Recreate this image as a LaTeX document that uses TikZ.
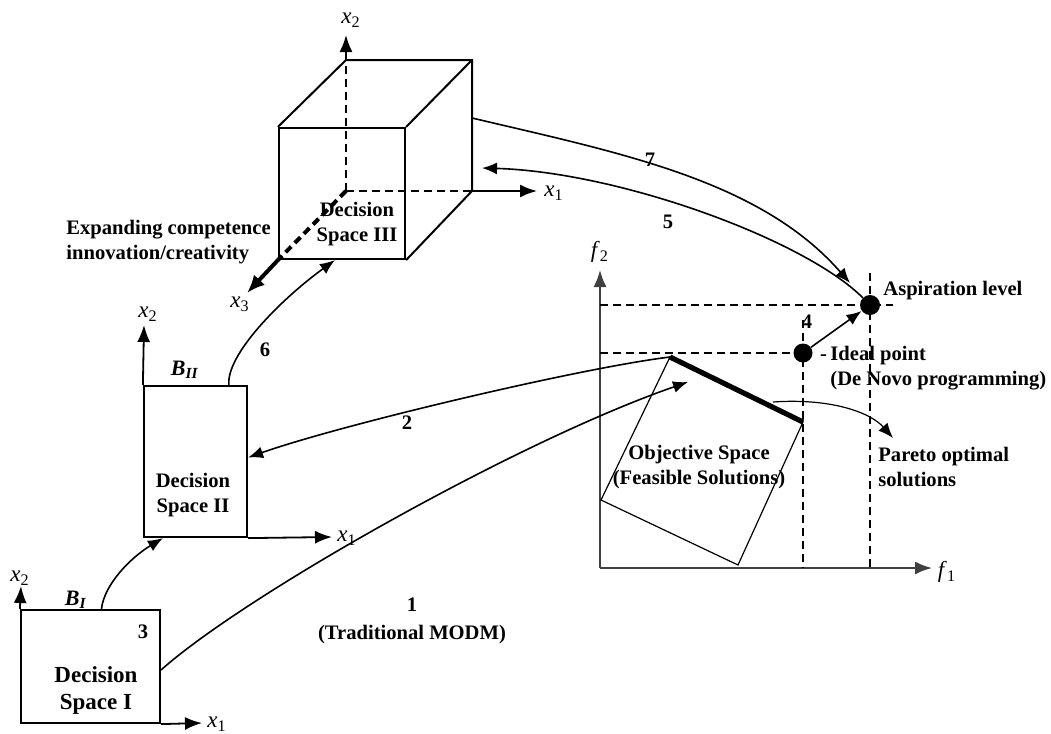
\documentclass[tikz,border=0pt]{standalone}
\usepackage{fontspec}
\setmainfont{Liberation Serif}
\usetikzlibrary{arrows.meta, calc}

\newcommand{\axlab}[2]{\textnormal{\fontsize{11.5}{13}\selectfont\textit{#1}\textsubscript{#2}}}

\begin{document}
\begin{tikzpicture}[x=0.5pt, y=-0.5pt, font=\fontsize{10.3}{12.5}\selectfont\bfseries]
    \tikzstyle{spacebox} = [rectangle, draw, line width=1.1pt, inner sep=0pt]
    \tikzstyle{line} = [draw, line width=0.8pt, -{Latex[length=7.5pt, width=6pt]}]
    \tikzstyle{axisline} = [draw, line width=0.9pt, -{Latex[length=8.5pt, width=6.5pt]}]
    \tikzstyle{edge} = [draw, line width=1pt]
    \tikzstyle{guide} = [draw, line width=0.9pt, dash pattern=on 4pt off 2.5pt]
    \tikzstyle{dot} = [circle, fill, inner sep=0pt, minimum size=9.5pt]
    \tikzstyle{txt} = [inner sep=0pt, align=center]
    \tikzstyle{ltxt} = [inner sep=0pt, align=left, anchor=west]

    \useasboundingbox (0,0) rectangle (1051,734);

    % Decision Space I
    \node [spacebox, minimum width=69.5pt, minimum height=56.5pt] (ds1) at (90.5,666.5) {};
    \node [txt, font=\fontsize{11.5}{13.5}\selectfont\bfseries] (ds1txt) at (96,690) {Decision\\Space I};
    \node [txt] (n3) at (143,632) {3};
    \node [txt, font=\fontsize{11}{13}\selectfont\bfseries] (bone) at (76,600) {\textit{B}\textsubscript{\textit{I}}};
    \coordinate (ds1x2) at (21,586);
    \coordinate (ds1x1) at (202,723);
    \path [axisline] (ds1.north west) -- (ds1x2);
    \path [axisline] (ds1.south east) -- (ds1x1);
    \node [txt] (ds1x2lab) at (20,578) {\axlab{x}{2}};
    \node [ltxt] (ds1x1lab) at (207,724) {\axlab{x}{1}};

    % Decision Space II
    \node [spacebox, minimum width=51.5pt, minimum height=75.5pt] (ds2) at (195.5,461.5) {};
    \node [txt] (ds2txt) at (193,495) {Decision\\Space II};
    \node [txt, font=\fontsize{11}{13}\selectfont\bfseries] (btwo) at (185,370) {\textit{B}\textsubscript{\textit{II}}};
    \coordinate (ds2x2) at (144,325);
    \coordinate (ds2x1) at (332,537);
    \path [axisline] (ds2.north west) -- (ds2x2);
    \path [axisline] (ds2.south east) -- (ds2x1);
    \node [txt] (ds2x2lab) at (148,314) {\axlab{x}{2}};
    \node [ltxt] (ds2x1lab) at (337,538) {\axlab{x}{1}};

    % Decision Space III (cube)
    \node [spacebox, minimum width=63pt, minimum height=65.5pt] (ds3) at (342,193.5) {};
    \coordinate (btl) at (346,60);
    \coordinate (btr) at (472,60);
    \coordinate (bbr) at (472,191);
    \coordinate (borg) at (346,191);
    \path [edge] (ds3.north west) -- (btl) -- (btr) -- (bbr) -- (ds3.south east);
    \path [edge] (ds3.north east) -- (btr);
    \path [guide] (borg) -- (btl);
    \path [guide] (borg) -- (bbr);
    \path [guide, line width=2pt] (borg) -- (ds3.south west);
    \coordinate (ds3x2) at (346,35);
    \coordinate (ds3x1) at (537,191);
    \coordinate (ds3x3) at (247,293);
    \path [axisline] (btl) -- (ds3x2);
    \path [axisline] (bbr) -- (ds3x1);
    \path [draw, line width=2pt, -{Latex[length=9pt, width=7.5pt]}] (ds3.south west) -- (ds3x3);
    \node [txt] (ds3txt) at (357,224) {Decision\\Space III};
    \node [txt] (ds3x2lab) at (351,20) {\axlab{x}{2}};
    \node [ltxt] (ds3x1lab) at (544,193) {\axlab{x}{1}};
    \node [txt] (ds3x3lab) at (240,304) {\axlab{x}{3}};
    \node [ltxt] (expand) at (66,242) {Expanding competence\\innovation/creativity};

    % Objective space
    \coordinate (orig) at (600,568);
    \coordinate (f2top) at (600,270);
    \coordinate (f1end) at (932,568);
    \path [axisline, draw=black!75] (orig) -- (f2top);
    \path [axisline, draw=black!75] (orig) -- (f1end);
    \node [txt] (f2lab) at (600,252) {\axlab{f}{2}};
    \node [txt] (f1lab) at (947,572) {\axlab{f}{1}};

    \node [dot, minimum size=10pt] (aspir) at (870,305) {};
    \node [dot] (ideal) at (803,353) {};
    \path [guide] (orig |- aspir) -- (893,305);
    \path [guide] (870,273) -- (orig -| aspir);
    \path [guide] (orig |- ideal) -- (ideal);
    \path [guide] (803,320) -- (orig -| ideal);

    \coordinate (otl) at (670,357);
    \coordinate (otr) at (803,422);
    \coordinate (obr) at (738,565);
    \coordinate (obl) at (601,500);
    \draw [line width=0.6pt] (otl) -- (otr) -- (obr) -- (obl) -- cycle;
    \draw [line width=2.6pt] (otl) -- (otr);

    \node [txt] (objtxt) at (699,467) {Objective Space\\(Feasible Solutions)};
    \node [ltxt] (paretotxt) at (878,467) {Pareto optimal\\solutions};
    \node [ltxt] (aspirtxt) at (883,291) {Aspiration level};
    \node [ltxt, anchor=north west] (idealtxt) at (830,346) {\llap{-\,}Ideal point\\(De Novo programming)};
    \node [txt] (n4) at (807,322) {4};

    % connectors
    \coordinate (p1s) at (161,670);
    \coordinate (p1e) at (688,382);
    \path [line] (p1s) .. controls (245,595) and (520,440) .. (p1e);
    \node [txt] (n1) at (412,621) {1\\[1.5pt](Traditional MODM)};

    \path [line] (otl) .. controls (580,368) and (340,425) .. ([yshift=2pt]ds2.east);
    \node [txt] (n2) at (407,423) {2};

    \path [line] ([xshift=5.5pt]ds1.north) .. controls (104,585) and (130,558) .. ([xshift=10pt]ds2.south west);

    \path [line] (ideal) -- (aspir);

    \coordinate (p5e) at (482,168);
    \path [line] (aspir) .. controls (805,240) and (620,172) .. (p5e);
    \node [txt] (n5) at (668,222) {5};

    \path [line] ([xshift=43pt]ds2.north west) .. controls (226,355) and (280,300) .. ([xshift=28.5pt]ds3.south west);
    \node [txt] (n6) at (265,350) {6};

    \coordinate (p7s) at (472,118);
    \coordinate (p7e) at (850,283);
    \path [line] (p7s) .. controls (620,153) and (760,180) .. (p7e);
    \node [txt] (n7) at (650,160) {7};

    \coordinate (pps) at (773,402);
    \coordinate (ppe) at (893,438);
    \path [line, line width=0.6pt] (pps) .. controls (830,398) and (870,412) .. (ppe);
\end{tikzpicture}
\end{document}
